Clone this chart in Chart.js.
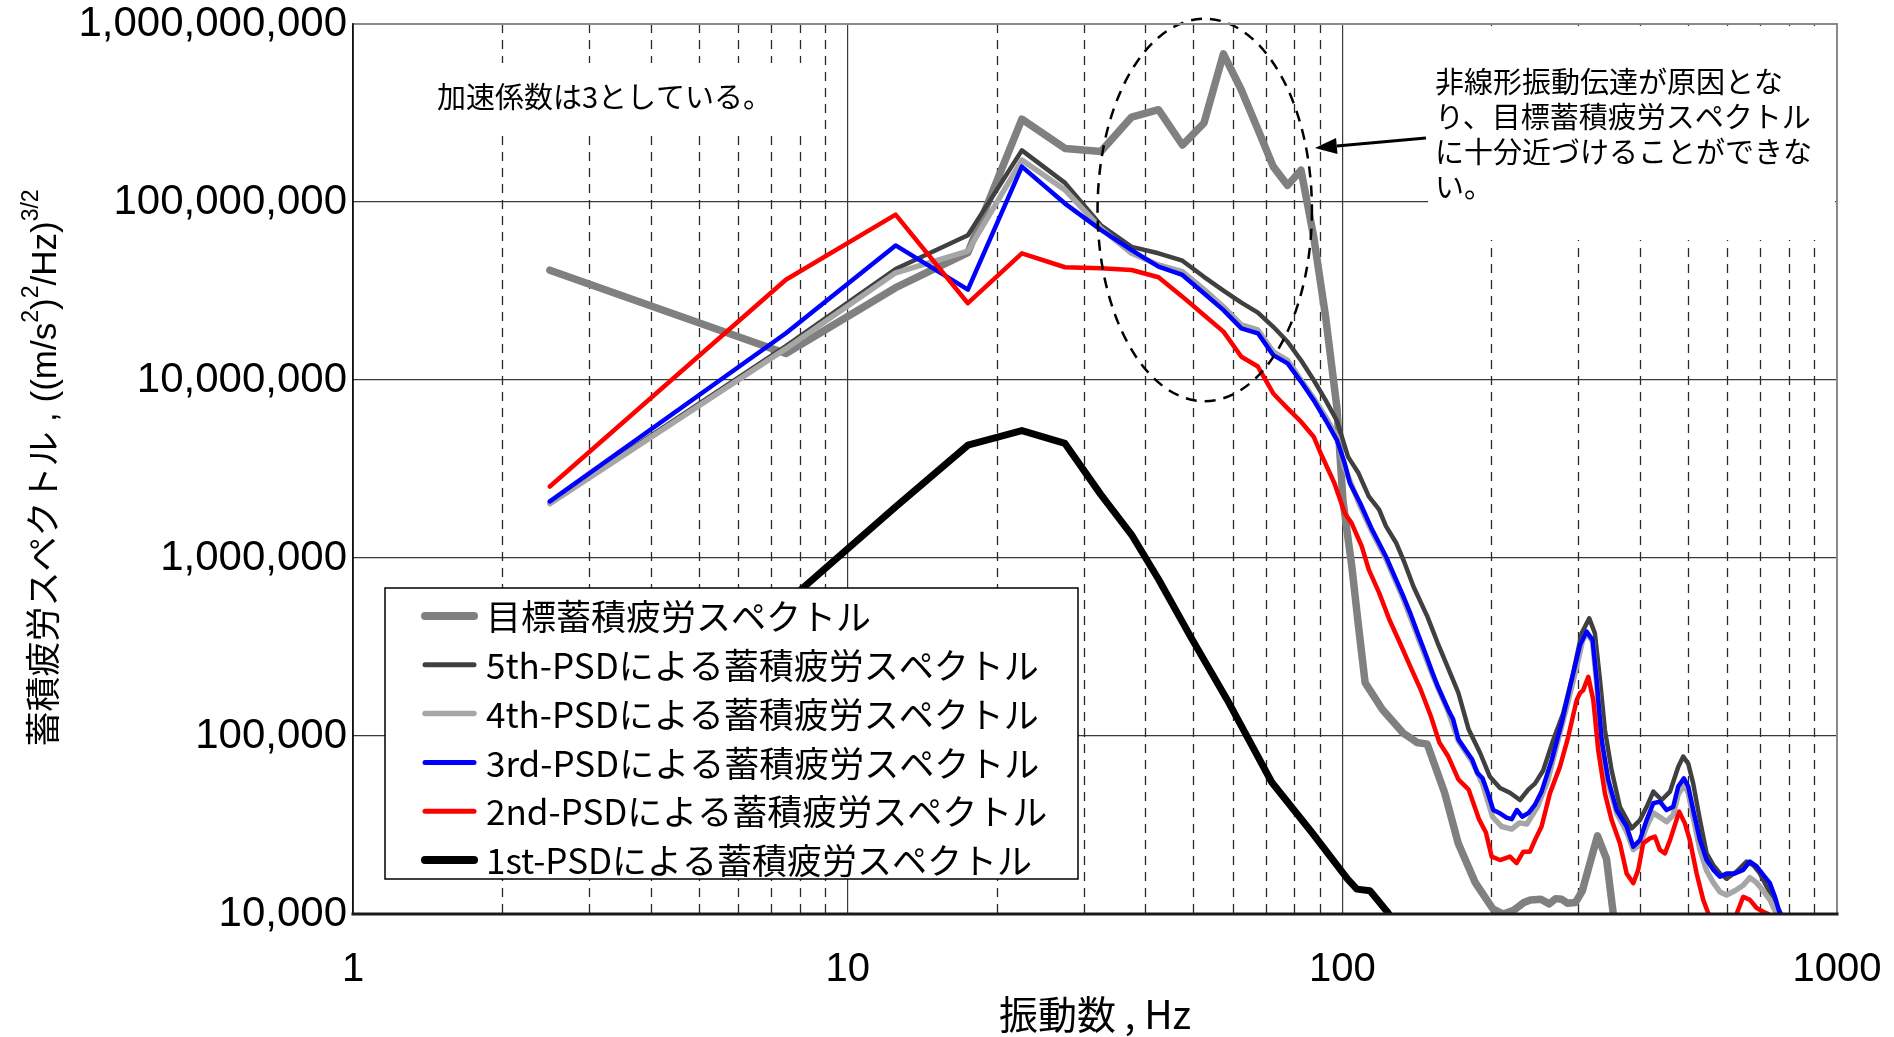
<!DOCTYPE html>
<html>
<head>
<meta charset="utf-8">
<script src="https://cdn.jsdelivr.net/npm/chart.js@4.4.1/dist/chart.umd.min.js"></script>
<style>
  html, body { margin: 0; padding: 0; background: #ffffff; }
  #wrap { width: 1894px; height: 1037px; }
</style>
</head>
<body>
<div id="wrap"><canvas id="c" width="1894" height="1037"></canvas></div>
<script>
// ---- Accumulated fatigue spectra, (m/s^2)^2/Hz ^(3/2), versus frequency (Hz) ----

const xTickValues = [1, 10, 100, 1000];
const xTickLabels = ['1', '10', '100', '1000'];
const yTickValues = [1e4, 1e5, 1e6, 1e7, 1e8, 1e9];
const yTickLabels = ['10,000', '100,000', '1,000,000', '10,000,000', '100,000,000', '1,000,000,000'];

const seriesLabels = [
  '目標蓄積疲労スペクトル',
  '5th-PSDによる蓄積疲労スペクトル',
  '4th-PSDによる蓄積疲労スペクトル',
  '3rd-PSDによる蓄積疲労スペクトル',
  '2nd-PSDによる蓄積疲労スペクトル',
  '1st-PSDによる蓄積疲労スペクトル'
];

// target spectrum
const targetHz = [2.5, 7.5, 12.5, 17.5, 22.5, 27.5, 32.5, 37.5, 42.5, 47.5, 52.5, 57.5, 62.5, 67.5, 72.5, 77.5, 82.5, 87.5, 92.5, 97.5,
  100.3, 104.5, 107.8, 111.2, 120.5, 132.7, 141.5, 148.5, 161, 171.5, 185.7, 201.4, 211.4, 222, 232.8, 240, 252, 262, 270, 277.5,
  285, 296, 305.6, 328, 342, 353, 365];
const targetVal = [4.14e7, 1.41e7, 3.3e7, 5.2e7, 2.92e8, 2.0e8, 1.92e8, 3.0e8, 3.3e8, 2.09e8, 2.77e8, 6.8e8, 4.26e8, 2.56e8, 1.58e8, 1.24e8, 1.51e8, 6.4e7, 2.27e7, 7.0e6,
  2.1e6, 9.0e5, 4.15e5, 1.99e5, 1.41e5, 1.04e5, 9.2e4, 9.0e4, 4.8e4, 2.5e4, 1.5e4, 1.07e4, 1.0e4, 1.05e4, 1.16e4, 1.2e4, 1.21e4, 1.14e4, 1.22e4, 1.21e4,
  1.15e4, 1.16e4, 1.35e4, 2.75e4, 2.04e4, 1.0e4, 6.0e3];

// 5th PSD
const fifthHz = [2.5, 7.5, 12.5, 17.5, 22.5, 27.5, 32.5, 37.5, 42.5, 47.5, 52.5, 57.5, 62.5, 67.5, 72.5, 77.5, 82.5, 87.5, 92.5, 97.5,
  102.7, 107.8, 113.1, 118.7, 122.5, 128.6, 132.8, 139.3, 148.5, 155.8, 166.2, 171.6, 180, 190, 198.8, 208.3, 218.2, 228.6, 237.6, 245.1,
  254.7, 266.9, 279.6, 292.9, 304.6, 315.6, 324, 331.7, 339.5, 350.3, 364, 384.5, 399.7, 412.3, 425.3, 442.1, 459.6, 477.5, 488.8, 500.3,
  512.1, 528.4, 545.1, 562.3, 579.9, 598.2, 626.6, 656.5, 676.9, 698.4, 720.6, 743, 766.6, 785];
const fifthVal = [2.05e6, 1.55e7, 4.2e7, 6.5e7, 1.95e8, 1.28e8, 7.4e7, 5.6e7, 5.15e7, 4.68e7, 3.8e7, 3.18e7, 2.72e7, 2.39e7, 1.99e7, 1.64e7, 1.29e7, 1.0e7, 7.7e6, 5.9e6,
  3.7e6, 3.0e6, 2.22e6, 1.87e6, 1.51e6, 1.21e6, 9.8e5, 6.9e5, 4.7e5, 3.34e5, 2.17e5, 1.75e5, 1.09e5, 8.0e4, 5.9e4, 5.1e4, 4.8e4, 4.37e4, 5.0e4, 5.4e4,
  6.4e4, 9.5e4, 1.34e5, 2.25e5, 3.78e5, 4.58e5, 3.78e5, 2.07e5, 1.08e5, 6.4e4, 4.0e4, 3.03e4, 3.37e4, 4.0e4, 4.87e4, 4.37e4, 4.87e4, 6.7e4, 7.66e4, 7.0e4,
  5.4e4, 3.37e4, 2.19e4, 1.88e4, 1.69e4, 1.58e4, 1.73e4, 1.97e4, 1.88e4, 1.69e4, 1.43e4, 1.2e4, 1.03e4, 9.0e3];

// 4th PSD
const fourthHz = [2.5, 7.5, 12.5, 17.5, 22.5, 27.5, 32.5, 37.5, 42.5, 47.5, 52.5, 57.5, 62.5, 67.5, 72.5, 77.5, 82.5, 87.5, 92.5, 97.5,
  101.1, 108.7, 114.9, 122.5, 132.8, 142.7, 152.2, 163.6, 171.6, 182.9, 192, 201.4, 210, 220, 228, 236, 248, 260, 273, 286.6,
  296, 305.6, 311.7, 320.6, 326.6, 334.3, 344.8, 358.5, 375.6, 387.4, 399.6, 412.2, 425.2, 438.5, 452.4, 466.6, 477.5, 490.3, 500.3, 512.1,
  528.4, 545.1, 562.3, 579.9, 598.2, 621.8, 646.3, 666.7, 687.9, 709.4, 731.8, 749, 762];
const fourthVal = [2.02e6, 1.5e7, 4.0e7, 5.3e7, 1.72e8, 1.17e8, 7.1e7, 5.15e7, 4.43e7, 4.06e7, 3.23e7, 2.58e7, 2.04e7, 1.91e7, 1.44e7, 1.29e7, 1.0e7, 7.9e6, 6.2e6, 4.8e6,
  3.2e6, 1.95e6, 1.4e6, 9.9e5, 5.9e5, 3.5e5, 2.2e5, 1.38e5, 9.4e4, 7.2e4, 5.4e4, 3.5e4, 3.1e4, 3.0e4, 3.25e4, 3.2e4, 4.0e4, 5.6e4, 9.5e4, 1.6e5,
  2.3e5, 3.4e5, 3.8e5, 3.4e5, 2.0e5, 9.0e4, 5.4e4, 3.7e4, 2.9e4, 2.3e4, 2.45e4, 3.1e4, 3.7e4, 3.5e4, 3.3e4, 3.6e4, 4.7e4, 5.3e4, 4.8e4, 3.5e4,
  2.3e4, 1.75e4, 1.5e4, 1.33e4, 1.28e4, 1.35e4, 1.45e4, 1.6e4, 1.5e4, 1.35e4, 1.2e4, 1.05e4, 9.5e3];

// 3rd PSD
const thirdHz = [2.5, 7.5, 12.5, 17.5, 22.5, 27.5, 32.5, 37.5, 42.5, 47.5, 52.5, 57.5, 62.5, 67.5, 72.5, 77.5, 82.5, 87.5, 92.5, 97.5,
  101.1, 103.6, 108.7, 114.9, 122.5, 127.5, 132.8, 137.1, 142.7, 146.2, 152.2, 155.8, 163.6, 167.5, 171.6, 177.2, 182.9, 187.4, 192, 196.7,
  201.9, 208.3, 214.7, 220, 225.3, 231, 238, 245, 252.8, 264.9, 277.5, 290.8, 302.2, 311.7, 320.6, 326.6, 334.3, 344.8, 358.5, 375.6,
  387.4, 399.6, 412.2, 425.2, 438.5, 452.4, 466.6, 477.5, 490.3, 500.3, 512.1, 528.4, 545.1, 562.3, 579.9, 598.2, 621.8, 646.3, 666.7, 687.9,
  709.4, 731.8, 749, 766.6, 780];
const thirdVal = [2.08e6, 1.83e7, 5.7e7, 3.22e7, 1.58e8, 9.8e7, 6.97e7, 5.37e7, 4.33e7, 3.89e7, 3.07e7, 2.47e7, 1.95e7, 1.83e7, 1.38e7, 1.24e7, 9.8e6, 7.7e6, 5.96e6, 4.6e6,
  3.41e6, 2.63e6, 2.03e6, 1.44e6, 1.02e6, 7.9e5, 6.1e5, 4.92e5, 3.64e5, 3.06e5, 2.26e5, 1.91e5, 1.41e5, 1.24e5, 9.6e4, 8.4e4, 7.4e4, 6.2e4, 5.8e4, 4.82e4,
  3.84e4, 3.68e4, 3.48e4, 3.41e4, 3.84e4, 3.52e4, 3.7e4, 4.1e4, 4.87e4, 7.3e4, 1.18e5, 2.07e5, 3.24e5, 3.86e5, 3.46e5, 2.07e5, 9.5e4, 5.66e4, 3.84e4, 3.1e4,
  2.39e4, 2.6e4, 3.37e4, 4.19e4, 4.28e4, 3.84e4, 4.0e4, 5.2e4, 5.78e4, 5.2e4, 3.84e4, 2.6e4, 2.01e4, 1.77e4, 1.62e4, 1.69e4, 1.69e4, 1.77e4, 1.97e4, 1.85e4,
  1.66e4, 1.49e4, 1.25e4, 1.0e4, 8.0e3];

// 2nd PSD
const secondHz = [2.5, 7.5, 12.5, 17.5, 22.5, 27.5, 32.5, 37.5, 42.5, 47.5, 52.5, 57.5, 62.5, 67.5, 72.5, 77.5, 82.5, 87.5, 90.4, 96.4,
  101.1, 104.4, 109.5, 113.1, 118.7, 124.5, 130.7, 137.1, 143.9, 151, 157.1, 163.6, 171.6, 180, 189, 195.1, 200.4, 208.3, 218.2, 225.1,
  232.2, 239.5, 245.1, 252.8, 262.8, 275.4, 286.2, 297.6, 302.2, 306.9, 314.2, 321.6, 329.1, 339.5, 350.3, 364, 375.6, 387.4, 396.4, 405.8,
  418.7, 428.5, 438.5, 448.9, 459.6, 466.6, 479.7, 492.6, 504.1, 520.3, 536.5, 549.2, 562, 610, 626.6, 646.3, 666.7, 687.9, 709.4, 726.1, 740];
const secondVal = [2.52e6, 3.66e7, 8.5e7, 2.7e7, 5.15e7, 4.3e7, 4.24e7, 4.15e7, 3.78e7, 2.94e7, 2.32e7, 1.87e7, 1.35e7, 1.19e7, 8.4e6, 6.93e6, 5.83e6, 4.8e6, 3.88e6, 2.63e6,
  1.79e6, 1.57e6, 1.16e6, 8.6e5, 6.37e5, 4.5e5, 3.34e5, 2.47e5, 1.83e5, 1.29e5, 9.2e4, 7.7e4, 5.7e4, 5.0e4, 3.4e4, 2.87e4, 2.1e4, 2.01e4, 2.1e4, 1.93e4,
  2.24e4, 2.24e4, 2.6e4, 3.1e4, 4.76e4, 6.73e4, 9.9e4, 1.59e5, 1.74e5, 1.81e5, 2.15e5, 1.59e5, 8.3e4, 4.76e4, 3.37e4, 2.5e4, 1.69e4, 1.49e4, 1.77e4, 2.5e4,
  2.66e4, 2.72e4, 2.29e4, 2.19e4, 2.6e4, 2.96e4, 3.76e4, 3.23e4, 2.6e4, 1.69e4, 1.2e4, 1.01e4, 8.0e3, 7.5e3, 1.0e4, 1.25e4, 1.2e4, 1.08e4, 1.03e4, 1.0e4, 9.0e3];

// 1st PSD
const firstHz = [2.5, 7.5, 12.5, 17.5, 22.5, 27.5, 32.5, 37.5, 42.5, 49.5, 58.5, 72, 86.8, 102.5, 107, 113.7, 123.6, 130];
const firstVal = [5.0e4, 5.6e5, 1.94e6, 4.3e6, 5.2e6, 4.4e6, 2.27e6, 1.35e6, 7.6e5, 3.56e5, 1.6e5, 5.5e4, 2.87e4, 1.57e4, 1.38e4, 1.35e4, 1.02e4, 8.0e3];

// ---- styling ----
const seriesStyle = [
  { color: '#808080', width: 7.5, legendWidth: 8 },
  { color: '#404040', width: 4.5, legendWidth: 5 },
  { color: '#a6a6a6', width: 5.5, legendWidth: 5.5 },
  { color: '#0000ff', width: 4.5, legendWidth: 5 },
  { color: '#ff0000', width: 4.5, legendWidth: 5 },
  { color: '#000000', width: 7, legendWidth: 8 }
];
const seriesHz = [targetHz, fifthHz, fourthHz, thirdHz, secondHz, firstHz];
const seriesVal = [targetVal, fifthVal, fourthVal, thirdVal, secondVal, firstVal];

const FONT_LATIN = "'Liberation Sans', Arial, 'Noto Sans CJK JP', sans-serif";
const FONT_JP = "'Noto Sans CJK JP', 'Liberation Sans', sans-serif";

const noteLeft = { text: '加速係数は3としている。', x: 437, y: 97, size: 29 };
const noteRight = {
  lines: ['非線形振動伝達が原因とな', 'り、目標蓄積疲労スペクトル', 'に十分近づけることができな', 'い。'],
  x: 1435, y: 82, lineGap: 35, size: 29
};
const noteBoxes = [
  { x: 430, y: 63, w: 382, h: 68 },
  { x: 1428, y: 26, w: 407, h: 214 }
];
// dashed ring around the 30-90 Hz band, given in data units
const ring = { hzLo: 32.0, hzHi: 86.8, valLo: 7.6e6, valHi: 1.07e9 };
// arrow pointing from the note towards the ring
const arrow = { fromHz: 147.6, fromVal: 2.29e8, toHz: 88.0, toVal: 2.01e8 };

const legendBox = { x: 385, y: 588, w: 693, h: 291, rowTop: 616, rowGap: 48.8, lineX0: 425, lineX1: 474, textX: 486, size: 35 };

const yTitleParts = [
  { text: '蓄積疲労スペクトル , ((m/s', sup: false },
  { text: '2', sup: true },
  { text: ')', sup: false },
  { text: '2', sup: true },
  { text: '/Hz)', sup: false },
  { text: '3/2', sup: true }
];
const xTitle = '振動数 , Hz';

function drawParts(ctx, parts, cx, cy, size, supSize, rise) {
  let total = 0;
  const widths = parts.map(p => {
    ctx.font = `${p.sup ? supSize : size}px ${FONT_LATIN}`;
    const w = ctx.measureText(p.text).width;
    total += w;
    return w;
  });
  let x = cx - total / 2;
  ctx.textAlign = 'left';
  ctx.textBaseline = 'middle';
  parts.forEach((p, i) => {
    ctx.font = `${p.sup ? supSize : size}px ${FONT_LATIN}`;
    ctx.fillText(p.text, x, cy - (p.sup ? rise : 0));
    x += widths[i];
  });
}

const decorPlugin = {
  id: 'decor',
  beforeDatasetsDraw(chart) {
    const { ctx, chartArea: a, scales: { x } } = chart;
    ctx.save();
    ctx.beginPath();
    ctx.rect(a.left, a.top, a.right - a.left, a.bottom - a.top);
    ctx.clip();
    // minor (2..9 per decade) dashed grid lines
    ctx.strokeStyle = '#2a2a2a';
    ctx.lineWidth = 1.3;
    ctx.setLineDash([9, 7]);
    [1, 10, 100].forEach(d => {
      for (let k = 2; k <= 9; k++) {
        const px = Math.round(x.getPixelForValue(k * d)) + 0.5;
        ctx.beginPath();
        ctx.moveTo(px, a.top);
        ctx.lineTo(px, a.bottom);
        ctx.stroke();
      }
    });
    ctx.setLineDash([]);
    // white backing behind the notes
    ctx.fillStyle = '#ffffff';
    noteBoxes.forEach(b => ctx.fillRect(b.x, b.y, b.w, b.h));
    ctx.restore();
  },
  afterDatasetsDraw(chart) {
    const { ctx, scales: { x, y } } = chart;
    ctx.save();
    // dashed ring
    const x0 = x.getPixelForValue(ring.hzLo), x1 = x.getPixelForValue(ring.hzHi);
    const y0 = y.getPixelForValue(ring.valHi), y1 = y.getPixelForValue(ring.valLo);
    ctx.strokeStyle = '#000000';
    ctx.lineWidth = 2.5;
    ctx.setLineDash([11, 8]);
    ctx.beginPath();
    ctx.ellipse((x0 + x1) / 2, (y0 + y1) / 2, (x1 - x0) / 2, (y1 - y0) / 2, 0, 0, Math.PI * 2);
    ctx.stroke();
    ctx.setLineDash([]);
    // arrow
    const ax0 = x.getPixelForValue(arrow.fromHz), ay0 = y.getPixelForValue(arrow.fromVal);
    const ax1 = x.getPixelForValue(arrow.toHz), ay1 = y.getPixelForValue(arrow.toVal);
    const ang = Math.atan2(ay1 - ay0, ax1 - ax0);
    const headLen = 22, headHalf = 8;
    const bx = ax1 - headLen * Math.cos(ang), by = ay1 - headLen * Math.sin(ang);
    ctx.lineWidth = 3;
    ctx.beginPath();
    ctx.moveTo(ax0, ay0);
    ctx.lineTo(bx, by);
    ctx.stroke();
    ctx.fillStyle = '#000000';
    ctx.beginPath();
    ctx.moveTo(ax1, ay1);
    ctx.lineTo(bx + headHalf * Math.sin(ang), by - headHalf * Math.cos(ang));
    ctx.lineTo(bx - headHalf * Math.sin(ang), by + headHalf * Math.cos(ang));
    ctx.closePath();
    ctx.fill();
    ctx.restore();
  },
  afterDraw(chart) {
    const { ctx, chartArea: a } = chart;
    ctx.save();
    // plot frame
    ctx.lineCap = 'square';
    ctx.strokeStyle = '#8a8a8a';
    ctx.lineWidth = 2;
    ctx.beginPath(); ctx.moveTo(a.left, a.top); ctx.lineTo(a.right, a.top); ctx.lineTo(a.right, a.bottom); ctx.stroke();
    ctx.strokeStyle = '#000000';
    ctx.lineWidth = 1.5;
    ctx.beginPath(); ctx.moveTo(a.left, a.top); ctx.lineTo(a.left, a.bottom); ctx.stroke();
    ctx.strokeStyle = '#1a1a1a';
    ctx.lineWidth = 3;
    ctx.beginPath(); ctx.moveTo(a.left, a.bottom); ctx.lineTo(a.right, a.bottom); ctx.stroke();

    // legend
    const L = legendBox;
    ctx.fillStyle = '#ffffff';
    ctx.fillRect(L.x, L.y, L.w, L.h);
    ctx.strokeStyle = '#000000';
    ctx.lineWidth = 1.5;
    ctx.strokeRect(L.x, L.y, L.w, L.h);
    chart.data.datasets.forEach((ds, i) => {
      const st = seriesStyle[i];
      const ry = L.rowTop + i * L.rowGap;
      ctx.strokeStyle = st.color;
      ctx.lineWidth = st.legendWidth;
      ctx.lineCap = 'round';
      ctx.beginPath(); ctx.moveTo(L.lineX0, ry); ctx.lineTo(L.lineX1, ry); ctx.stroke();
      ctx.fillStyle = '#000000';
      ctx.font = `${L.size}px ${FONT_JP}`;
      ctx.textAlign = 'left';
      ctx.textBaseline = 'middle';
      ctx.fillText(ds.label, L.textX, ry + 1);
    });

    // notes
    ctx.fillStyle = '#000000';
    ctx.textAlign = 'left';
    ctx.textBaseline = 'middle';
    ctx.font = `${noteLeft.size}px ${FONT_JP}`;
    ctx.fillText(noteLeft.text, noteLeft.x, noteLeft.y);
    ctx.font = `${noteRight.size}px ${FONT_JP}`;
    noteRight.lines.forEach((t, i) => ctx.fillText(t, noteRight.x, noteRight.y + i * noteRight.lineGap));

    // axis titles
    ctx.save();
    ctx.translate(46, 468);
    ctx.rotate(-Math.PI / 2);
    drawParts(ctx, yTitleParts, 0, 0, 35, 23, 14);
    ctx.restore();
    ctx.font = `39px ${FONT_JP}`;
    ctx.textAlign = 'center';
    ctx.textBaseline = 'middle';
    ctx.fillText(xTitle, (a.left + a.right) / 2, 1014);
    ctx.restore();
  }
};

const datasets = seriesLabels.map((label, i) => ({
  label,
  data: seriesHz[i].map((f, k) => ({ x: f, y: seriesVal[i][k] })),
  borderColor: seriesStyle[i].color,
  backgroundColor: seriesStyle[i].color,
  borderWidth: seriesStyle[i].width,
  pointRadius: 0,
  pointHoverRadius: 0,
  tension: 0,
  fill: false,
  clip: 0,
  borderJoinStyle: 'round',
  borderCapStyle: 'round',
  order: seriesLabels.length - i
}));

new Chart(document.getElementById('c'), {
  type: 'line',
  data: { datasets },
  plugins: [decorPlugin],
  options: {
    responsive: false,
    devicePixelRatio: 1,
    animation: false,
    events: [],
    layout: { padding: { top: 24, right: 57, bottom: 0, left: 0 } },
    plugins: { legend: { display: false }, tooltip: { enabled: false }, title: { display: false } },
    scales: {
      x: {
        type: 'logarithmic',
        min: 1,
        max: 1000,
        afterBuildTicks: s => { s.ticks = xTickValues.map(v => ({ value: v })); },
        afterFit: s => { s.height = 123; },
        ticks: {
          autoSkip: false,
          maxRotation: 0,
          padding: 3,
          color: '#000000',
          font: { family: FONT_LATIN, size: 40, lineHeight: 1 },
          callback: (v) => xTickLabels[xTickValues.indexOf(v)] ?? ''
        },
        grid: { color: '#3a3a3a', lineWidth: 1.2, drawTicks: true, tickLength: 33, tickColor: 'rgba(0,0,0,0)' },
        border: { display: false }
      },
      y: {
        type: 'logarithmic',
        min: 1e4,
        max: 1e9,
        afterBuildTicks: s => { s.ticks = yTickValues.map(v => ({ value: v })); },
        afterFit: s => { s.width = 353; },
        ticks: {
          autoSkip: false,
          padding: 0,
          color: '#000000',
          font: { family: FONT_LATIN, size: 42, lineHeight: 1 },
          callback: (v) => yTickLabels[yTickValues.indexOf(v)] ?? ''
        },
        grid: { color: '#3a3a3a', lineWidth: 1.2, drawTicks: true, tickLength: 6, tickColor: 'rgba(0,0,0,0)' },
        border: { display: false }
      }
    }
  }
});
</script>
</body>
</html>
